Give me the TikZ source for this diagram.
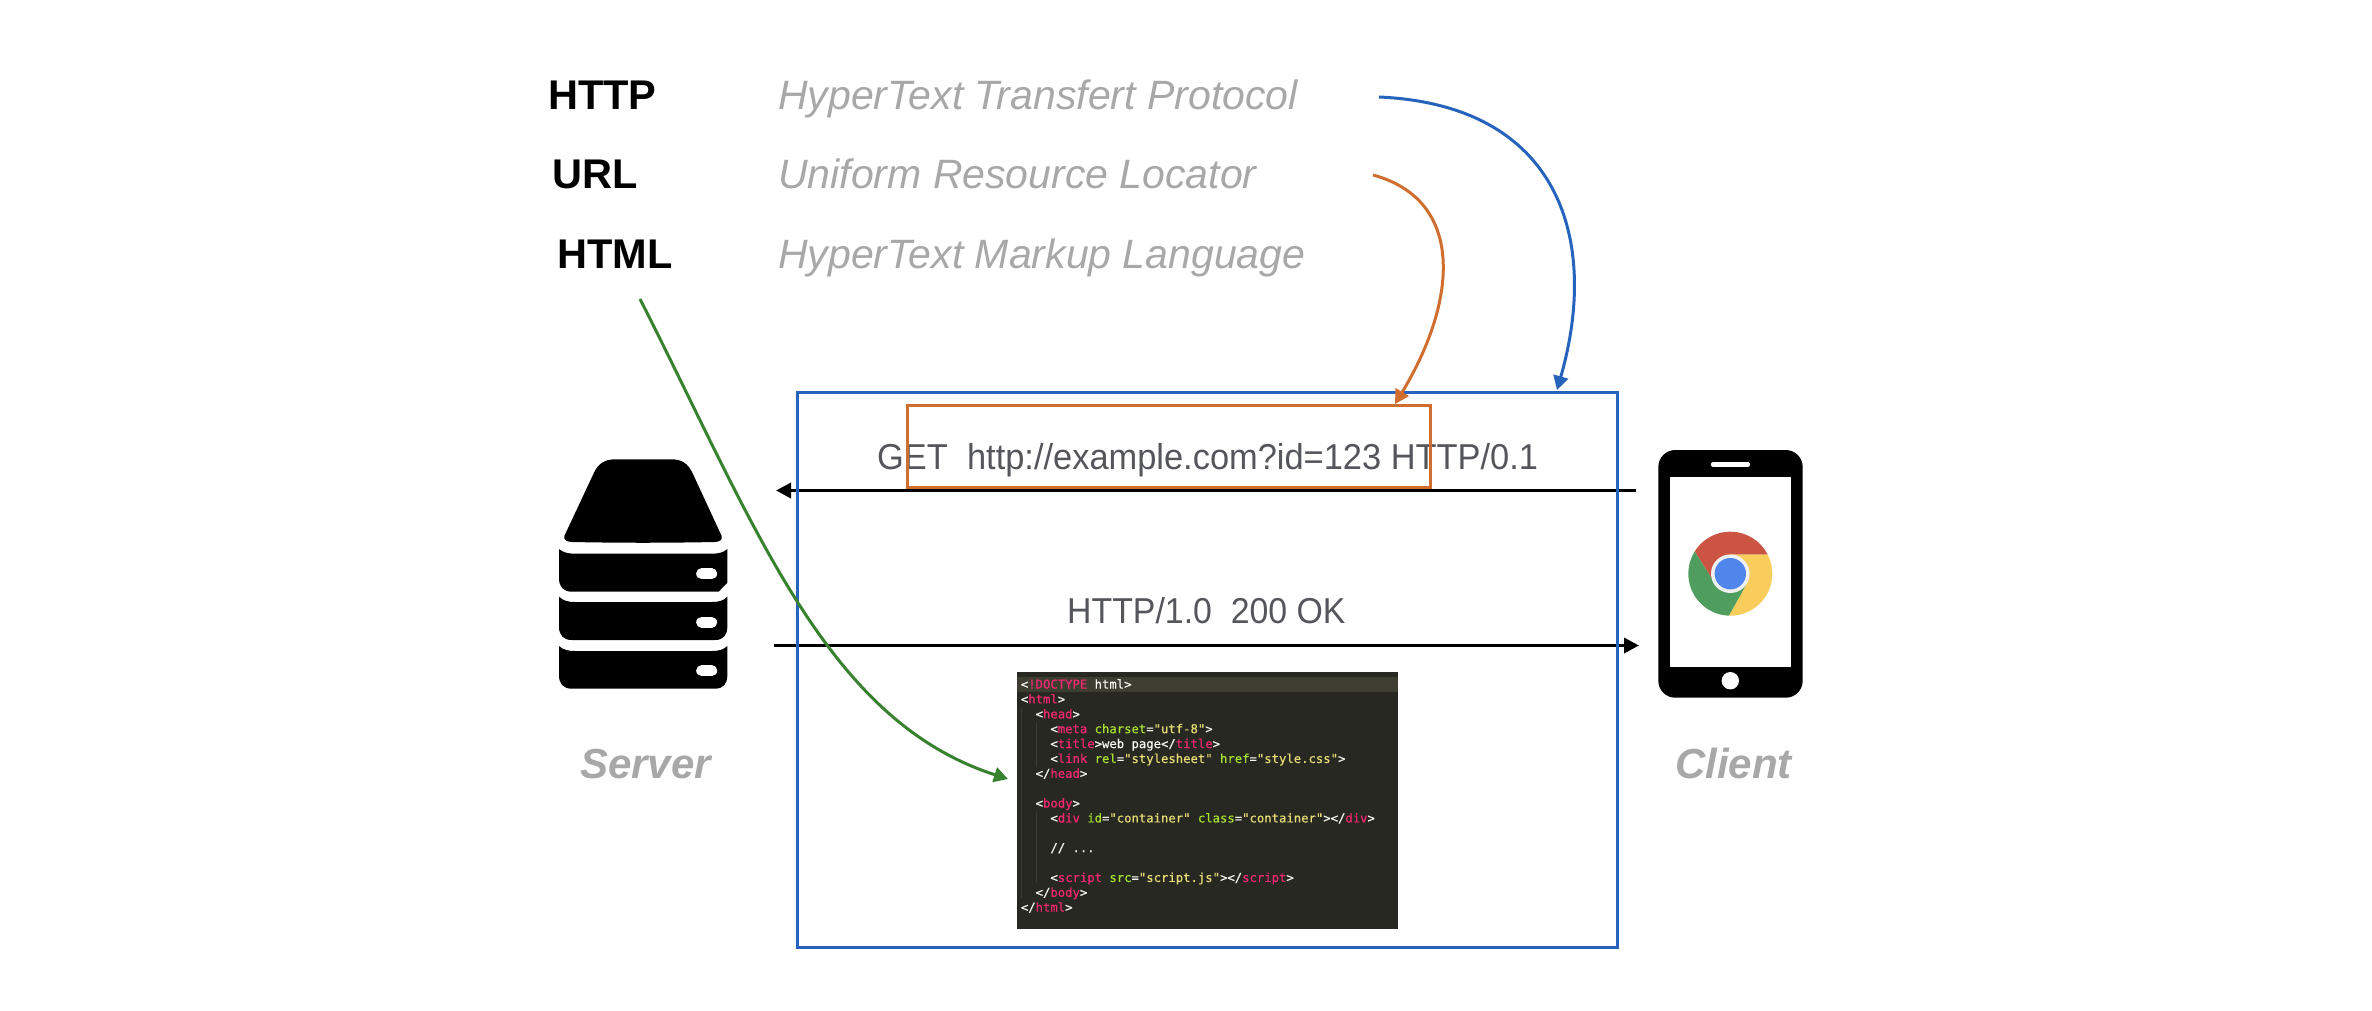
\documentclass[tikz,border=0pt]{standalone}
\usepackage{fontspec}
\setmainfont{Liberation Sans}
\newfontfamily\codefont[FakeBold=0.35]{DejaVu Sans Mono}
\usetikzlibrary{arrows.meta}
\definecolor{lightgrey}{HTML}{A8A8A8}
\definecolor{msggrey}{HTML}{54565C}
\definecolor{boxblue}{HTML}{2563BC}
\definecolor{boxorange}{HTML}{CF6E2E}
\definecolor{arrgreen}{HTML}{37812F}
\definecolor{codebg}{HTML}{272822}
\definecolor{codeband}{HTML}{3E3D32}
\definecolor{codeguide}{HTML}{3B3C35}
\definecolor{codepink}{HTML}{F92672}
\definecolor{codegreen}{HTML}{A6E22E}
\definecolor{codeyellow}{HTML}{E6DB74}
\definecolor{codewhite}{HTML}{F8F8F2}
\definecolor{chromered}{HTML}{CB5443}
\definecolor{chromeyellow}{HTML}{F8CD5C}
\definecolor{chromegreen}{HTML}{4F9D5F}
\definecolor{chromeblue}{HTML}{5086EC}
\newcommand\pk[1]{\textcolor{codepink}{#1}}
\newcommand\gn[1]{\textcolor{codegreen}{#1}}
\newcommand\yl[1]{\textcolor{codeyellow}{#1}}
\tikzset{
  acronym/.style={anchor=base west,inner sep=0pt,font=\fontsize{41.5}{48}\selectfont\bfseries,text=black},
  meaning/.style={anchor=base west,inner sep=0pt,font=\fontsize{41}{48}\selectfont\itshape,text=lightgrey},
  message/.style={anchor=base west,inner sep=0pt,font=\fontsize{36}{44}\selectfont,text=msggrey,transform shape},
  role/.style={anchor=base west,inner sep=0pt,font=\fontsize{42}{50}\selectfont\bfseries\itshape,text=lightgrey},
  framebox/.style={draw,line width=3pt,inner sep=0pt,outer sep=0pt},
  msgline/.style={draw=black,line width=3.4pt,-{Triangle[length=15pt,width=15pt]}},
  callout/.style={line width=3pt,-{Triangle[length=14pt,width=15pt]}},
}
\begin{document}
\begin{tikzpicture}[x=1pt,y=-1pt]
\useasboundingbox (0,0) rectangle (2372,1010);

% terms
\node[acronym] (http) at (548,109) {HTTP};
\node[acronym] (url) at (552.5,188) {URL};
\node[acronym] (html) at (557,268) {HTML};
\node[meaning] (httpdef) at (778,109) {HyperText Transfert Protocol};
\node[meaning] (urldef) at (778,188) {Uniform Resource Locator};
\node[meaning] (htmldef) at (778,268) {HyperText Markup Language};

% server icon
\begin{scope}[shift={(530pt,-430pt)},x=0.33333pt,y=-0.33333pt]
  \fill[black] (103,318) -- (192,128) .. controls (205,100) and (225,88) .. (255,88)
     -- (425,88) .. controls (455,88) and (473,100) .. (487,128)
     -- (575,318) .. controls (577,330) and (570,335) .. (555,336)
     .. controls (400,339) and (280,339) .. (125,336)
     .. controls (110,335) and (101,330) .. (103,318) -- cycle;
  \fill[black] (87,357) .. controls (100,368) and (115,371) .. (135,371) -- (545,371)
     .. controls (565,371) and (580,368) .. (592,357) -- (592,458) -- (566,485) -- (125,485)
     .. controls (100,485) and (87,470) .. (87,445) -- cycle;
  \fill[black] (87,500) .. controls (100,513) and (115,516) .. (135,516) -- (545,516)
     .. controls (565,516) and (580,513) .. (592,500) -- (592,590)
     .. controls (592,615) and (580,630) .. (555,630) -- (125,630)
     .. controls (100,630) and (87,615) .. (87,590) -- cycle;
  \fill[black] (87,648) .. controls (100,660) and (115,663) .. (135,663) -- (545,663)
     .. controls (565,663) and (580,660) .. (592,648) -- (592,736)
     .. controls (592,761) and (580,776) .. (555,776) -- (125,776)
     .. controls (100,776) and (87,761) .. (87,736) -- cycle;
  \draw[white,line width=11pt,line cap=round] (515,431) -- (545,431);
  \draw[white,line width=11pt,line cap=round] (515,577) -- (545,577);
  \draw[white,line width=11pt,line cap=round] (515,722) -- (545,722);
\end{scope}
\node[role] (server) at (580,778) {Server};

% phone icon
\fill[black,rounded corners=17pt] (1658.3,450) rectangle (1802.7,697.7);
\fill[white] (1670.3,476.7) rectangle (1790.7,666.7);
\draw[white,line width=4.4pt,line cap=round] (1713,464.5) -- (1748,464.5);
\fill[white] (1730.3,680.7) circle[radius=8.7];
\begin{scope}[shift={(1730.3pt,-573.7pt)},x=1pt,y=1pt]
  \fill[chromered] (148:42) arc[start angle=148,end angle=27,radius=42] -- (0,19) -- (-18.7,-4.7) -- cycle;
  \fill[chromeyellow] (27:42) arc[start angle=27,end angle=-92,radius=42] -- (15.7,-11.3) -- (0,19) -- cycle;
  \fill[chromegreen] (-92:42) arc[start angle=-92,end angle=-212,radius=42] -- (-18.7,-4.7) -- (15.7,-11.3) -- cycle;
  \fill[white!94!black] (0,0) circle[radius=19.3];
  \fill[chromeblue] (0,0) circle[radius=15.7];
\end{scope}
\node[role] (client) at (1675,778) {Client};

% messages
\coordinate (reqstart) at (1636,490.5);
\coordinate (reqend) at (776,490.5);
\coordinate (respstart) at (774,645.5);
\coordinate (respend) at (1639,645.5);
\draw[msgline] (reqstart) -- (reqend);
\draw[msgline] (respstart) -- (respend);
\node[message,xscale=0.956] (reqtext) at (877,469) {GET\ \ http://example.com?id=123 HTTP/0.1};
\node[message,xscale=0.94] (resptext) at (1067,623) {HTTP/1.0\ \ 200 OK};

% html code
\fill[codebg] (1017,672) rectangle (1398,929);
\fill[codeband] (1017,677) rectangle (1398,692);
\draw[codeguide,line width=1pt] (1021,708) -- (1021,898);
\draw[codeguide,line width=1pt] (1036,723) -- (1036,767);
\draw[codeguide,line width=1pt] (1036,812) -- (1036,883);
\node[anchor=north west,inner sep=0pt,align=left,text=codewhite,
      font=\codefont\fontsize{12.25}{14.87}\selectfont] (code) at (1020.7,679) {%
<\pk{!DOCTYPE} html>\\
<\pk{html}>\\
~~<\pk{head}>\\
~~~~<\pk{meta} \gn{charset}=\yl{"utf-8"}>\\
~~~~<\pk{title}>web page</\pk{title}>\\
~~~~<\pk{link} \gn{rel}=\yl{"stylesheet"} \gn{href}=\yl{"style.css"}>\\
~~</\pk{head}>\\
~\\
~~<\pk{body}>\\
~~~~<\pk{div} \gn{id}=\yl{"container"} \gn{class}=\yl{"container"}></\pk{div}>\\
~\\
~~~~// ...\\
~\\
~~~~<\pk{script} \gn{src}=\yl{"script.js"}></\pk{script}>\\
~~</\pk{body}>\\
</\pk{html}>};

% frames
\node[framebox,draw=boxblue,minimum width=820pt,minimum height=555pt] (exchange) at (1207,669.5) {};
\node[framebox,draw=boxorange,minimum width=523pt,minimum height=82pt] (urlbox) at (1168.5,446) {};

% callouts
\coordinate (httpfrom) at (1379,97);
\coordinate (httpto) at (1557,390);
\coordinate (urlfrom) at (1373,175);
\coordinate (urlto) at (1395,404);
\coordinate (htmlfrom) at (640,299);
\coordinate (htmlto) at (1008,779);
\draw[callout,boxblue] (httpfrom) .. controls (1560,105) and (1600,240) .. (httpto);
\draw[callout,boxorange] (urlfrom) .. controls (1465,200) and (1458,300) .. (urlto);
\draw[callout,arrgreen] (htmlfrom) .. controls (755,525) and (825,720) .. (htmlto);
\end{tikzpicture}
\end{document}
